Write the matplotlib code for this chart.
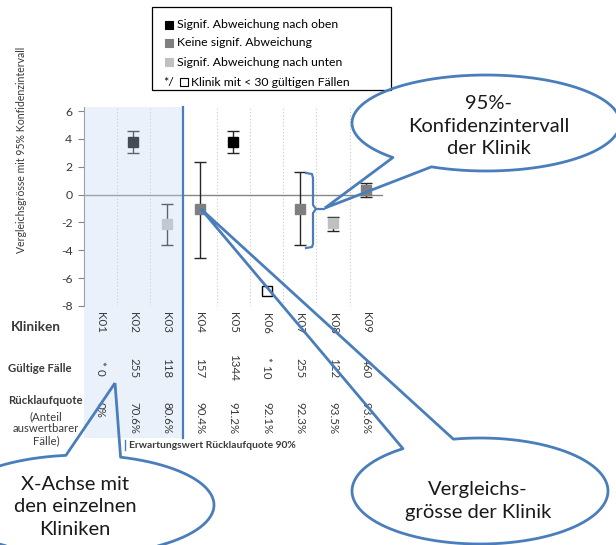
import numpy as np
import matplotlib
matplotlib.use("Agg")
import matplotlib.pyplot as plt
from matplotlib.patches import Rectangle, PathPatch
from matplotlib.path import Path
from matplotlib.transforms import blended_transform_factory

plt.rcParams['font.family'] = ['Lato', 'DejaVu Sans']
plt.rcParams['axes.unicode_minus'] = False

# Vergleichsgroesse je Klinik mit 95%-Konfidenzintervall
kliniken = ['K01', 'K02', 'K03', 'K04', 'K05', 'K06', 'K07', 'K08', 'K09']
werte = [np.nan, 3.8, -2.1, -1.07, 3.8, -6.93, -1.0, -2.03, 0.33]
ki_unten = [np.nan, 3.0, -3.63, -4.57, 3.0, np.nan, -3.63, -2.6, -0.2]
ki_oben = [np.nan, 4.6, -0.7, 2.36, 4.6, np.nan, 1.6, -1.6, 0.85]
status = [None, 'oben', 'unten', 'keine', 'oben', 'klein', 'keine', 'unten', 'keine']
gueltige_faelle = ['* 0', '255', '118', '157', '1344', '* 10', '255', '122', '460']
ruecklaufquote = ['0%', '70.6%', '80.6%', '90.4%', '91.2%', '92.1%', '92.3%', '93.5%', '93.6%']

legende = ['Signif. Abweichung nach oben', 'Keine signif. Abweichung',
           'Signif. Abweichung nach unten', 'Klinik mit < 30 gültigen Fällen']
farben = {'oben': 'black', 'keine': '#7f7f7f', 'unten': '#c0c0c0', 'klein': 'white'}

blau = '#4a7ebb'
text_farbe = '#3a3a3a'
W, H = 616, 545

fig = plt.figure(figsize=(W / 100, H / 100), dpi=100)

# Achsenbereich in Pixeln (links, oben, rechts, unten)
x0, y_oben, x1, y_unten = 83.5, 107, 383, 306
ax = fig.add_axes([x0 / W, 1 - y_unten / H, (x1 - x0) / W, (y_unten - y_oben) / H])
pos = np.arange(1, len(kliniken) + 1)
ax.set_xlim(0.5, len(kliniken) + 0.5)
ax.set_ylim(-8, 6.29)

for x in pos[:-1] + 0.5:
    ax.axvline(x, color='#c8c8c8', lw=0.8, ls=(0, (1, 2)), zorder=0)
ax.axhline(0, color='#868686', lw=1.0, zorder=1)

for x, w, lo, hi, st in zip(pos, werte, ki_unten, ki_oben, status):
    if st is None:
        continue
    if st == 'klein':
        ax.plot(x, w, 's', ms=7.5, mfc='white', mec='black', mew=1.0, zorder=3)
        continue
    ax.errorbar(x, w, yerr=[[w - lo], [hi - w]], fmt='s', ms=7.5,
                color=farben[st], mec=farben[st], ecolor='#262626',
                elinewidth=1.0, capsize=4, capthick=1.0, zorder=3)

ax.set_yticks(np.arange(-8, 7, 2))
ax.set_xticks([])
ax.tick_params(axis='y', direction='out', length=4, width=0.8, color='#868686',
               labelsize=8.8, labelcolor=text_farbe, pad=4)
for s in ['top', 'right', 'bottom']:
    ax.spines[s].set_visible(False)
ax.spines['left'].set_color('#868686')
ax.spines['left'].set_linewidth(0.8)
ax.spines['left'].set_bounds(-8, 6.29)

fig.text(22 / W, 1 - 150 / H, 'Vergleichsgrösse mit 95% Konfidenzintervall',
         rotation=90, ha='center', va='center', fontsize=7.6, color=text_farbe)

# Overlay in Pixelkoordinaten fuer Tabelle, Legende und Sprechblasen
ov = fig.add_axes([0, 0, 1, 1], zorder=2)
ov.set_xlim(0, W)
ov.set_ylim(H, 0)
ov.axis('off')
ov.patch.set_visible(False)
tr = blended_transform_factory(ax.transData, ov.transData)

# Kliniken mit Rücklaufquote unter Erwartungswert
ov.add_patch(Rectangle((0.5, y_oben), 3, 438 - y_oben, transform=tr,
                       facecolor='#c5d9f1', alpha=0.35, edgecolor='none', zorder=1))
ov.plot([3.5, 3.5], [y_oben, 438], transform=tr, color=blau, lw=1.6, zorder=2)

# Tabelle unter der x-Achse
ov.text(11, 327, 'Kliniken', fontsize=9.8, fontweight='bold', color=text_farbe,
        ha='left', va='center')
ov.text(8, 368, 'Gültige Fälle', fontsize=8.2, fontweight='bold', color=text_farbe,
        ha='left', va='center')
ov.text(8, 401, 'Rücklaufquote', fontsize=8.2, fontweight='bold', color=text_farbe,
        ha='left', va='center')
ov.text(46, 429, '(Anteil\nauswertbarer\nFälle)', fontsize=8.2, color=text_farbe,
        ha='center', va='center', linespacing=1.1)
for x, k, n, q in zip(pos, kliniken, gueltige_faelle, ruecklaufquote):
    ov.text(x, 323, k, transform=tr, rotation=-90, ha='center', va='center',
            fontsize=8.3, color=text_farbe)
    ov.text(x, 368, n, transform=tr, rotation=-90, ha='center', va='center',
            fontsize=8.3, color=text_farbe)
    ov.text(x, 402, q, transform=tr, rotation=-90, ha='center', va='top',
            fontsize=8.3, color=text_farbe)
ov.plot([125, 125], [440, 450], color=blau, lw=1.0)
ov.text(129, 445, 'Erwartungswert Rücklaufquote 90%', fontsize=7.4, fontweight='bold',
        color=text_farbe, ha='left', va='center')

# Legende
ov.add_patch(Rectangle((152, 7), 239, 83, facecolor='white', edgecolor='black', lw=0.9, zorder=3))
leg_y = [25, 43, 62, 82]
for i, (lab, st) in enumerate(zip(legende, ['oben', 'keine', 'unten', 'klein'])):
    y = leg_y[i]
    if st == 'klein':
        ov.text(163, y, '*/', fontsize=8.8, color='black', ha='left', va='center', zorder=4)
        sx, tx = 180, 191
    else:
        sx, tx = 165, 177
    ov.add_patch(Rectangle((sx, y - 4), 8, 8, facecolor=farben[st],
                           edgecolor='black' if st == 'klein' else farben[st],
                           lw=0.8, zorder=4))
    ov.text(tx, y, lab, fontsize=8.8, color='black', ha='left', va='center', zorder=4)


def sprechblase(cx, cy, breite, hoehe, spitze, t_start, t_ende, text, tx, ty):
    t = np.radians(np.linspace(t_start, t_ende, 200))
    xs = cx + breite / 2 * np.cos(t)
    ys = cy + hoehe / 2 * np.sin(t)
    verts = [spitze] + list(zip(xs, ys)) + [spitze]
    ov.add_patch(PathPatch(Path(verts), facecolor='none', edgecolor=blau,
                           lw=2.0, joinstyle='round', zorder=5))
    ov.text(tx, ty, text, fontsize=14.5, color='#1a1a1a', ha='center', va='center',
            linespacing=1.38, zorder=6)


sprechblase(486, 123, 268, 96, (325, 208), 134, 474,
            '95%-\nKonfidenzintervall\nder Klinik', 489, 126)
sprechblase(480, 491, 256, 106, (201, 209), 258, 593,
            'Vergleichs-\ngrösse der Klinik', 478, 501)
sprechblase(82, 505, 264, 100, (115, 383), 287, 623,
            'X-Achse mit\nden einzelnen\nKliniken', 75, 507)

# Klammer um das Konfidenzintervall
klammer = [(306, 173), (312, 174), (313, 178), (313, 205), (316, 209), (313, 213),
           (313, 244), (312, 247), (306, 248)]
ov.plot(*zip(*klammer), color=blau, lw=1.6, zorder=5)
ov.plot([316, 324], [209, 209], color=blau, lw=1.6, zorder=5)

fig.savefig('out.png', dpi=100)
